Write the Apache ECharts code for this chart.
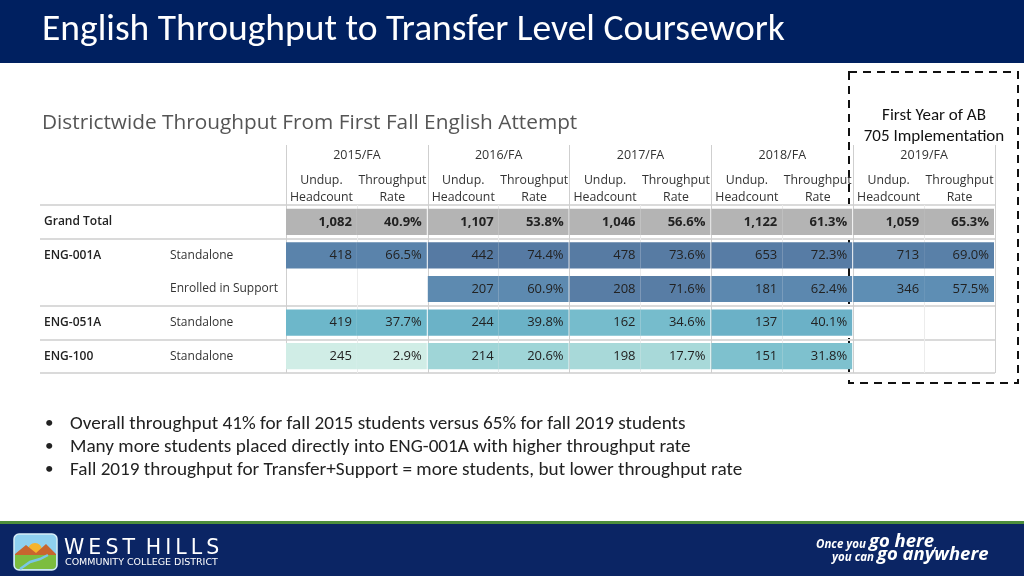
<!DOCTYPE html>
<html>
<head>
<meta charset="utf-8">
<script src="https://cdn.jsdelivr.net/npm/echarts@6/dist/echarts.min.js"></script>
<style>
  html, body { margin: 0; padding: 0; background: #fff; }
  #chart { width: 1024px; height: 576px; }
</style>
</head>
<body>
<div id="chart"></div>
<script>
// table data
var years = ["2015/FA", "2016/FA", "2017/FA", "2018/FA", "2019/FA"];
var colHeaders = ["Undup.\nHeadcount", "Throughput\nRate"];
var rowCourse = ["Grand Total", "ENG-001A", "", "ENG-051A", "ENG-100"];
var rowGroup = ["", "Standalone", "Enrolled in Support", "Standalone", "Standalone"];

var grandHead = [1082, 1107, 1046, 1122, 1059];
var grandRate = [40.9, 53.8, 56.6, 61.3, 65.3];
var eng001aHead = [418, 442, 478, 653, 713];
var eng001aRate = [66.5, 74.4, 73.6, 72.3, 69.0];
var supportHead = [null, 207, 208, 181, 346];
var supportRate = [null, 60.9, 71.6, 62.4, 57.5];
var eng051aHead = [419, 244, 162, 137, null];
var eng051aRate = [37.7, 39.8, 34.6, 40.1, null];
var eng100Head = [245, 214, 198, 151, null];
var eng100Rate = [2.9, 20.6, 17.7, 31.8, null];

var bullets = [
  "Overall throughput 41% for fall 2015 students versus 65% for fall 2019 students",
  "Many more students placed directly into ENG-001A with higher throughput rate",
  "Fall 2019 throughput for Transfer+Support = more students, but lower throughput rate"
];

var CAL = '"Carlito", "Liberation Sans Narrow", "Open Sans", sans-serif';
var TAB = '"Open Sans", "DejaVu Sans", sans-serif';

var rowNames = rowCourse.map(function (c, i) { return c + "|" + rowGroup[i]; });
var colNames = [];
years.forEach(function (y) {
  colHeaders.forEach(function (h) { colNames.push(y + " " + h); });
});

// [column, row, rate used for colour], text kept alongside
function buildCells(heads, rates, row, cells, texts) {
  heads.forEach(function (h, y) {
    if (h == null) return;
    cells.push([y * 2, row, rates[y]]);
    texts.push(h.toLocaleString("en-US"));
    cells.push([y * 2 + 1, row, rates[y]]);
    texts.push(rates[y].toFixed(1) + "%");
  });
}

var grandCells = [], grandTexts = [];
buildCells(grandHead, grandRate, 0, grandCells, grandTexts);
var rowCells = [], rowTexts = [];
buildCells(eng001aHead, eng001aRate, 1, rowCells, rowTexts);
buildCells(supportHead, supportRate, 2, rowCells, rowTexts);
buildCells(eng051aHead, eng051aRate, 3, rowCells, rowTexts);
buildCells(eng100Head, eng100Rate, 4, rowCells, rowTexts);

function makeRender(texts, bold) {
  return function (params, api) {
    var col = api.value(0);
    var c = api.coord([col, api.value(1)]);
    var size = api.size([1, 1]);
    var w = size[0];
    var h = size[1] * 0.78;
    var x = c[0] - w / 2;
    var y = c[1] - h / 2;
    if (col % 2 === 1) w -= 1;
    return {
      type: "rect",
      shape: { x: x, y: y, width: w, height: h },
      style: { fill: api.visual("color") },
      textContent: {
        style: {
          text: texts[params.dataIndex],
          fill: "#222",
          font: (bold ? "bold " : "") + "13px " + TAB
        }
      },
      textConfig: { position: "insideRight", distance: 5 }
    };
  };
}

var chart = echarts.init(document.getElementById("chart"));

var sloganRich = {
  s: { fill: "#fff", font: "italic bold 11.5px " + TAB, verticalAlign: "bottom" },
  b: { fill: "#fff", font: "italic bold 18.5px " + TAB, verticalAlign: "bottom" }
};

var graphics = [
  { type: "rect", left: 0, top: 0, shape: { width: 1024, height: 63 }, style: { fill: "#002060" } },
  { type: "rect", left: 0, top: 521, shape: { width: 1024, height: 3 }, style: { fill: "#4e8f3c" } },
  { type: "rect", left: 0, top: 524, shape: { width: 1024, height: 52 }, style: { fill: "#0b2564" } },
  {
    type: "rect",
    shape: { x: 849, y: 72, width: 169, height: 311 },
    style: { fill: "none", stroke: "#111", lineWidth: 2, lineDash: [8, 6] }
  },
  {
    type: "text", x: 934, y: 126,
    style: { text: "First Year of AB\n705 Implementation", fill: "#111", font: "17px " + CAL,
      align: "center", verticalAlign: "middle", lineHeight: 21 }
  },
  // footer logo
  {
    type: "group", x: 14, y: 534,
    children: [
      { type: "rect", shape: { x: 0, y: 0, width: 43, height: 36, r: 5 }, style: { fill: "#8fd0ef", stroke: "#d8eef8", lineWidth: 1.5 } },
      { type: "circle", shape: { cx: 21, cy: 16, r: 7 }, style: { fill: "#f6b42c" } },
      { type: "polygon", shape: { points: [[1, 20], [12, 11], [22, 19], [32, 10], [42, 20], [42, 24], [1, 24]] }, style: { fill: "#c8652f" } },
      { type: "rect", shape: { x: 1, y: 21, width: 41, height: 14, r: [0, 0, 4, 4] }, style: { fill: "#7cbd3f" } },
      { type: "polyline", shape: { points: [[6, 35], [16, 28], [26, 25], [34, 21]] }, style: { stroke: "#79c6e6", lineWidth: 2.5, fill: "none" } }
    ]
  },
  { type: "text", x: 64, y: 549, style: { text: "W\u2009E\u2009S\u2009T\u2009 H\u2009I\u2009L\u2009L\u2009S", fill: "#fff", font: "500 20.5px \"DejaVu Sans\", sans-serif", verticalAlign: "middle" } },
  { type: "text", x: 65, y: 563, style: { text: "COMMUNITY COLLEGE DISTRICT", fill: "#fff", font: "9.5px \"DejaVu Sans\", sans-serif", verticalAlign: "middle" } },
  {
    type: "text", x: 816, y: 551,
    style: { text: "{s|Once you }{b|go here}{s|,}", align: "left", verticalAlign: "bottom", rich: sloganRich }
  },
  {
    type: "text", x: 832, y: 564,
    style: { text: "{s|you can }{b|go anywhere}", align: "left", verticalAlign: "bottom", rich: sloganRich }
  }
];

bullets.forEach(function (t, i) {
  graphics.push({ type: "text", x: 45, y: 424 + i * 23, style: { text: "\u2022", fill: "#222", font: "17px " + CAL, verticalAlign: "middle" } });
  graphics.push({ type: "text", x: 70, y: 424 + i * 23, style: { text: t, fill: "#222", font: "19.2px " + CAL, verticalAlign: "middle" } });
});

chart.setOption({
  animation: false,
  title: [
    {
      text: "English Throughput to Transfer Level Coursework",
      left: 37, top: 7,
      textStyle: { color: "#fff", fontFamily: CAL, fontSize: 37.5, fontWeight: "normal" }
    },
    {
      text: "Districtwide Throughput From First Fall English Attempt",
      left: 37, top: 108,
      textStyle: { color: "#555", fontFamily: TAB, fontSize: 20.8, fontWeight: "normal" }
    }
  ],
  grid: [
    { left: 40, right: 29, top: 205, height: 168 },
    { left: 286, right: 29, top: 205, height: 168 },
    { left: 286, right: 29, top: 145, height: 60 }
  ],
  xAxis: [
    { gridIndex: 0, type: "value", show: false },
    {
      gridIndex: 1, type: "category", data: colNames, position: "top",
      axisLine: { show: false }, axisTick: { show: false },
      axisLabel: {
        interval: 0, margin: -1, color: "#333", fontFamily: TAB, fontSize: 12.3, lineHeight: 17,
        formatter: function (v, i) { return colHeaders[i % 2]; }
      },
      splitLine: { show: true, lineStyle: { color: ["#cfcfcf", "#ececec"], width: 1 } }
    },
    {
      gridIndex: 2, type: "category", data: years, position: "top",
      axisLine: { show: false }, axisTick: { show: false },
      axisLabel: { inside: true, margin: 4, verticalAlign: "top", color: "#333", fontFamily: TAB, fontSize: 12.5 },
      splitLine: { show: true, lineStyle: { color: "#cfcfcf", width: 1 } }
    }
  ],
  yAxis: [
    {
      gridIndex: 0, type: "category", data: rowNames, inverse: true,
      axisLine: { show: false }, axisTick: { show: false },
      axisLabel: {
        inside: true, margin: 4, align: "left",
        formatter: function (v, i) {
          return "{a|" + rowCourse[i] + "}{b|" + rowGroup[i] + "}";
        },
        rich: {
          a: { width: 126, color: "#222", fontFamily: TAB, fontSize: 12, fontWeight: 600 },
          b: { color: "#333", fontFamily: TAB, fontSize: 12 }
        }
      },
      splitLine: {
        show: true,
        interval: function (i) { return i !== 2; },
        lineStyle: { color: "#dadada", width: 2 }
      }
    },
    {
      gridIndex: 1, type: "category", data: rowNames, inverse: true, show: false
    },
    { gridIndex: 2, type: "value", show: false }
  ],
  visualMap: {
    type: "continuous", show: false, seriesIndex: 1, dimension: 2,
    min: 0, max: 75,
    inRange: { color: ["#d8f1e8", "#a5d8d8", "#6db7ca", "#5f8fb5", "#5679a2"] }
  },
  series: [
    {
      name: "Grand Total", type: "custom", xAxisIndex: 1, yAxisIndex: 1,
      renderItem: makeRender(grandTexts, true), data: grandCells,
      itemStyle: { color: "#b4b4b4" }
    },
    {
      name: "Courses", type: "custom", xAxisIndex: 1, yAxisIndex: 1,
      renderItem: makeRender(rowTexts, false), data: rowCells
    }
  ],
  graphic: graphics
});
</script>
</body>
</html>
